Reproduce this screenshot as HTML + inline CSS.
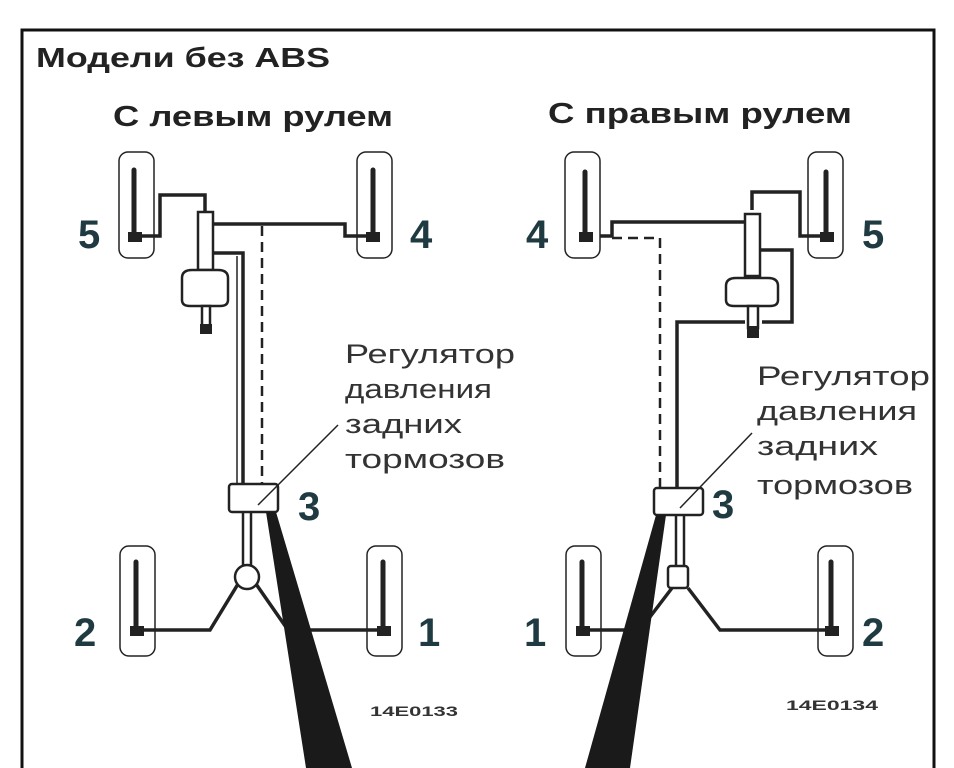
<!DOCTYPE html>
<html><head><meta charset="utf-8"><style>
html,body{margin:0;padding:0;background:#fff;}
svg{display:block}
text{font-family:"Liberation Sans","DejaVu Sans",sans-serif;}
</style></head><body>
<svg width="954" height="768" viewBox="0 0 954 768" xmlns="http://www.w3.org/2000/svg">
<rect width="954" height="768" fill="#fff"/>
<path d="M22 768 V30 H934 V768" fill="none" stroke="#111" stroke-width="3"/>
<text x="36" y="67" font-size="28" font-weight="bold" fill="#222" textLength="294" lengthAdjust="spacingAndGlyphs">Модели без ABS</text>
<text x="113" y="126" font-size="29" font-weight="bold" fill="#222" textLength="280" lengthAdjust="spacingAndGlyphs">С левым рулем</text>
<text x="548" y="123" font-size="29" font-weight="bold" fill="#222" textLength="304" lengthAdjust="spacingAndGlyphs">С правым рулем</text>

<g fill="none" stroke="#222" stroke-width="1.5">
<rect x="119" y="152" width="35" height="106" rx="9"/>
<rect x="357" y="152" width="35" height="106" rx="9"/>
<rect x="120" y="546" width="35" height="110" rx="9"/>
<rect x="367" y="546" width="35" height="110" rx="9"/>
<rect x="565" y="152" width="35" height="106" rx="9"/>
<rect x="808" y="152" width="35" height="106" rx="9"/>
<rect x="566" y="546" width="35" height="110" rx="9"/>
<rect x="818" y="546" width="35" height="110" rx="9"/>
</g>
<g stroke="#222" stroke-width="5" stroke-linecap="round">
<line x1="134" y1="170" x2="134" y2="238"/>
<line x1="373" y1="170" x2="373" y2="238"/>
<line x1="136" y1="562" x2="136" y2="632"/>
<line x1="383" y1="562" x2="383" y2="632"/>
<line x1="585" y1="172" x2="585" y2="238"/>
<line x1="826" y1="172" x2="826" y2="238"/>
<line x1="582" y1="562" x2="582" y2="632"/>
<line x1="831" y1="562" x2="831" y2="632"/>
</g>
<g fill="#222">
<rect x="128" y="232" width="14" height="10"/><rect x="366" y="232" width="14" height="10"/>
<rect x="130" y="626" width="14" height="10"/><rect x="377" y="626" width="14" height="10"/>
<rect x="579" y="232" width="14" height="10"/><rect x="820" y="232" width="14" height="10"/>
<rect x="576" y="626" width="14" height="10"/><rect x="825" y="626" width="14" height="10"/>
</g>

<!-- LEFT -->
<g fill="none" stroke="#222" stroke-width="3.5">
<path d="M140 236 H160 V195 H205 V212"/>
<path d="M213 224 H345 V236 H370"/>
<path d="M213 253 H243 V488"/>
<path d="M237 256 V488" stroke-width="1.5"/>
<path d="M262 226 V488" stroke-dasharray="10 6" stroke-width="2.5"/>
<path d="M243 512 V566 M251 512 V566" stroke-width="2.5"/>
<path d="M238 584 L210 630 H140 M256 584 L288 630 H380"/>
</g>
<g fill="#fff" stroke="#222" stroke-width="2.5">
<rect x="198" y="212" width="15" height="58"/>
<path d="M182 278 Q182 270 192 270 H218 Q228 270 228 278 V300 Q228 306 220 306 H190 Q182 306 182 300 Z"/>
<rect x="202" y="306" width="8" height="20"/>
<rect x="229" y="484" width="49" height="28" rx="3"/>
<circle cx="247" cy="577" r="12"/>
</g>
<rect x="200" y="324" width="12" height="10" fill="#222"/>
<line x1="258" y1="505" x2="338" y2="425" stroke="#222" stroke-width="1.5"/>
<polygon points="266,512 276,512 352,768 306,768" fill="#1a1a1a"/>
<g font-size="40" font-weight="bold" fill="#1f3a40">
<text x="298" y="520">3</text>
<text x="78" y="248">5</text>
<text x="410" y="248">4</text>
<text x="74" y="646">2</text>
<text x="418" y="646">1</text>
</g>
<g font-size="27" fill="#333">
<text x="345" y="363" textLength="170" lengthAdjust="spacingAndGlyphs">Регулятор</text>
<text x="345" y="398" textLength="147" lengthAdjust="spacingAndGlyphs">давления</text>
<text x="345" y="433" textLength="117" lengthAdjust="spacingAndGlyphs">задних</text>
<text x="345" y="468" textLength="160" lengthAdjust="spacingAndGlyphs">тормозов</text>
</g>
<text x="370" y="716" font-size="14" font-weight="bold" fill="#333" textLength="88" lengthAdjust="spacingAndGlyphs">14E0133</text>

<!-- RIGHT -->
<g fill="none" stroke="#222" stroke-width="3.5">
<path d="M600 236 H612 V222 H745"/>
<path d="M752 210 V192 H800 V236 H824"/>
<path d="M760 250 H792 V322 H762"/>
<path d="M745 322 H677 V488"/>
<path d="M612 238 H660 V488" stroke-dasharray="10 6" stroke-width="2.5"/>
<path d="M676 515 V566 M684 515 V566" stroke-width="2.5"/>
<path d="M672 588 L640 630 H585 M688 588 L720 630 H830"/>
</g>
<g fill="#fff" stroke="#222" stroke-width="2.5">
<rect x="745" y="214" width="15" height="62"/>
<path d="M726 286 Q726 278 736 278 H768 Q778 278 778 286 V300 Q778 306 770 306 H734 Q726 306 726 300 Z"/>
<rect x="748" y="306" width="10" height="22"/>
<rect x="654" y="488" width="49" height="27" rx="3"/>
<rect x="668" y="566" width="20" height="22" rx="3"/>
</g>
<rect x="747" y="326" width="12" height="12" fill="#222"/>
<line x1="680" y1="508" x2="752" y2="433" stroke="#222" stroke-width="1.5"/>
<polygon points="656,515 666,515 630,768 585,768" fill="#1a1a1a"/>
<g font-size="40" font-weight="bold" fill="#1f3a40">
<text x="712" y="518">3</text>
<text x="526" y="248">4</text>
<text x="862" y="248">5</text>
<text x="524" y="646">1</text>
<text x="862" y="646">2</text>
</g>
<g font-size="27" fill="#333">
<text x="757" y="385" textLength="173" lengthAdjust="spacingAndGlyphs">Регулятор</text>
<text x="757" y="420" textLength="160" lengthAdjust="spacingAndGlyphs">давления</text>
<text x="757" y="455" textLength="121" lengthAdjust="spacingAndGlyphs">задних</text>
<text x="757" y="494" textLength="156" lengthAdjust="spacingAndGlyphs">тормозов</text>
</g>
<text x="786" y="710" font-size="14" font-weight="bold" fill="#333" textLength="92" lengthAdjust="spacingAndGlyphs">14E0134</text>
</svg>
</body></html>
